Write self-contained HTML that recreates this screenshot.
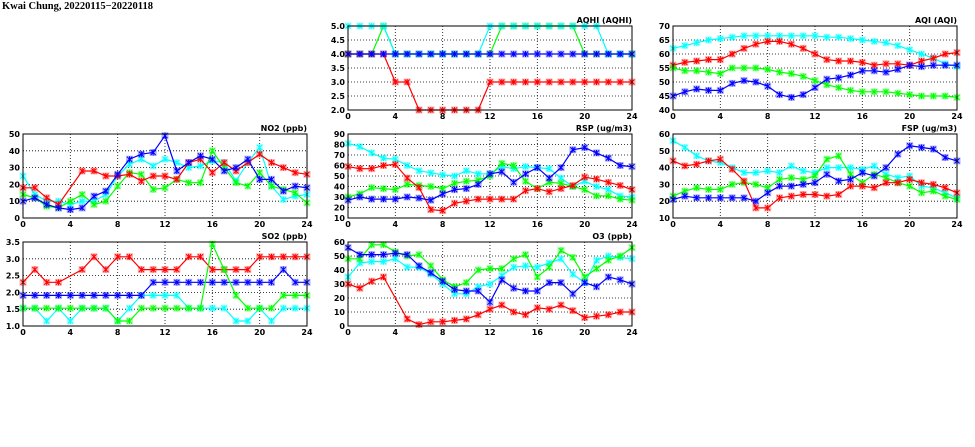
<!DOCTYPE html>
<html><head><meta charset="utf-8">
<style>
html,body{margin:0;padding:0;background:#fff;}
svg{display:block;}
text{font-family:"DejaVu Sans","Liberation Sans",sans-serif;font-weight:bold;font-size:8px;fill:#000;}
</style></head>
<body>
<svg id="s" width="975" height="447" xmlns="http://www.w3.org/2000/svg">
<text x="2" y="9" style="font-family:'Liberation Serif',serif;font-size:10.5px;font-weight:bold">Kwai Chung, 20220115−20220118</text>
</svg>
<script>
var N=null;
var panels=[
{t:"AQHI (AQHI)",x:348,y:26,min:2,max:5,step:0.5,dec:1,s:[
["#00ff00",[4,4,4,5,4,4,4,4,4,4,4,4,4,5,5,5,5,5,5,5,4,4,4,4,4]],
["#00ffff",[5,5,5,5,4,4,4,4,4,4,4,4,5,5,5,5,5,5,5,5,5,5,4,4,4]],
["#ff0000",[4,4,4,4,3,3,2,2,2,2,2,2,3,3,3,3,3,3,3,3,3,3,3,3,3]],
["#0000ff",[4,4,4,4,4,4,4,4,4,4,4,4,4,4,4,4,4,4,4,4,4,4,4,4,4]]]},
{t:"AQI (AQI)",x:673,y:26,min:40,max:70,step:5,dec:0,s:[
["#00ffff",[62,63,64,65,65.5,66,66.5,66.5,66.5,66.5,66.5,66.5,66.5,66,66,65.5,65,64.5,64,63,61.5,60,58.5,56.5,55.5]],
["#ff0000",[56,57,57.5,58,58,60,62,63.5,64.5,64.5,63.5,62,60,58,57.5,57.5,57,56,56.5,56.5,56,57.5,58.5,60,60.5]],
["#00ff00",[55,54,54,53.5,53,55,55,55,54.5,53.5,53,52,50.5,49,48,47,46.5,46.5,46.5,46,45.5,45,45,45,44.5]],
["#0000ff",[45,46.5,47.5,47,47,49.5,50.5,50,48.5,45.5,44.5,45.5,48,51,51.5,52.5,54,54,53.5,54.5,56,55.5,56,56,56]]]},
{t:"NO2 (ppb)",x:23,y:134,min:0,max:50,step:10,dec:0,s:[
["#00ffff",[25,14,10,10,8,10,10,14,25,32,35,31,35,33,30,31,34,33,22,33,42,19,11,13,14]],
["#00ff00",[14,12,7,6,10,14,8,10,19,27,26,17,18,23,21,21,40,30,21,19,27,19,17,15,9]],
["#ff0000",[18,18,12,8,N,28,28,25,25,26,22,25,25,23,33,35,27,33,28,33,38,33,30,27,26]],
["#0000ff",[10,12,8,6,5,6,13,16,26,35,38,39,49,28,33,37,35,28,30,35,23,23,16,19,18]]]},
{t:"RSP (ug/m3)",x:348,y:134,min:10,max:90,step:10,dec:0,s:[
["#00ffff",[81,78,72,67,66,60,55,53,51,50,55,52,52,59,57,59,58,57,48,40,45,40,37,31,30]],
["#00ff00",[30,33,39,38,37,42,41,40,38,43,45,46,50,62,60,45,38,44,43,40,37,31,31,28,27]],
["#ff0000",[59,57,57,60,61,48,39,18,17,24,26,28,28,28,28,36,38,35,38,41,49,47,44,41,37]],
["#0000ff",[27,30,28,28,28,30,29,27,33,37,38,42,52,54,44,52,58,48,58,75,77,72,67,60,59]]]},
{t:"FSP (ug/m3)",x:673,y:134,min:10,max:60,step:10,dec:0,s:[
["#00ffff",[56,52,47,44,43,40,37,37,38,37,41,38,37,40,40,40,39,41,36,34,35,29,28,25,22]],
["#00ff00",[23,26,28,27,27,30,31,30,28,33,34,33,35,45,47,36,31,36,34,31,29,25,26,23,21]],
["#ff0000",[44,41,42,44,45,39,32,16,16,22,23,24,24,23,24,29,29,28,31,31,33,31,30,28,25]],
["#0000ff",[21,23,22,22,22,22,22,20,25,29,29,30,31,36,32,33,37,35,40,48,53,52,51,46,44]]]},
{t:"SO2 (ppb)",x:23,y:242,min:1,max:3.5,step:0.5,dec:1,s:[
["#00ffff",[1.53,1.53,1.15,1.53,1.15,1.53,1.53,1.53,1.15,1.53,1.91,1.91,1.91,1.91,1.53,1.53,1.53,1.53,1.15,1.15,1.53,1.15,1.53,1.53,1.53]],
["#ff0000",[2.3,2.68,2.3,2.3,N,2.68,3.06,2.68,3.06,3.06,2.68,2.68,2.68,2.68,3.06,3.06,2.68,2.68,2.68,2.68,3.06,3.06,3.06,3.06,3.06]],
["#0000ff",[1.91,1.91,1.91,1.91,1.91,1.91,1.91,1.91,1.91,1.91,1.91,2.3,2.3,2.3,2.3,2.3,2.3,2.3,2.3,2.3,2.3,2.3,2.68,2.3,2.3]],
["#00ff00",[1.53,1.53,1.53,1.53,1.53,1.53,1.53,1.53,1.15,1.15,1.53,1.53,1.53,1.53,1.53,1.53,3.44,2.68,1.91,1.53,1.53,1.53,1.91,1.91,1.91]]]},
{t:"O3 (ppb)",x:348,y:242,min:0,max:60,step:10,dec:0,s:[
["#00ffff",[35,45,46,46,48,42,42,37,30,23,23,28,30,36,42,43,42,45,48,37,31,47,50,49,48]],
["#00ff00",[48,48,58,58,53,50,51,43,33,28,31,40,41,41,48,51,35,42,54,49,35,41,47,50,56]],
["#ff0000",[30,27,32,35,N,5,1,3,3,4,5,8,12,15,10,8,13,12,15,11,6,7,8,10,10]],
["#0000ff",[56,51,51,51,52,51,43,38,32,26,25,25,17,33,27,25,25,31,31,23,31,28,35,33,30]]]}
];
var W=284,H=84,o="";
panels.forEach(function(p){
 var X=function(i){return p.x+i*W/24},Y=function(v){return p.y+H-(v-p.min)/(p.max-p.min)*H};
 // grid
 for(var v=p.min+p.step;v<p.max-1e-9;v+=p.step){var yy=Y(v).toFixed(1);o+='<line x1="'+p.x+'" y1="'+yy+'" x2="'+(p.x+W)+'" y2="'+yy+'" stroke="#000" stroke-width="0.8" stroke-dasharray="1,2"/>';}
 for(var i=4;i<24;i+=4){var xx=X(i).toFixed(1);o+='<line x1="'+xx+'" y1="'+p.y+'" x2="'+xx+'" y2="'+(p.y+H)+'" stroke="#000" stroke-width="0.8" stroke-dasharray="1,2"/>';}
 // tick labels
 for(var v=p.min;v<=p.max+1e-9;v+=p.step){o+='<text x="'+(p.x-3)+'" y="'+(Y(v)+3)+'" text-anchor="end">'+v.toFixed(p.dec)+'</text>';}
 for(var i=0;i<=24;i+=4){o+='<text x="'+X(i)+'" y="'+(p.y+H+9)+'" text-anchor="middle">'+i+'</text>';}
 o+='<text x="'+(p.x+W)+'" y="'+(p.y-3)+'" text-anchor="end">'+p.t+'</text>';
 // series
 p.s.forEach(function(s){
  var c=s[0],d=s[1],pts=[];
  var segs=[],cur=[];
  d.forEach(function(v,i){if(v===null){if(cur.length)segs.push(cur);cur=[];}else cur.push(X(i).toFixed(1)+","+Y(v).toFixed(1));});
  if(cur.length)segs.push(cur);
  // bridge gaps (reference draws straight lines across missing)
  var all=[];d.forEach(function(v,i){if(v!==null)all.push(X(i).toFixed(1)+","+Y(v).toFixed(1));});
  o+='<polyline points="'+all.join(" ")+'" fill="none" stroke="'+c+'" stroke-width="1.2"/>';
  d.forEach(function(v,i){if(v===null)return;var x=X(i),y=Y(v);
   o+='<rect x="'+(x-3.5)+'" y="'+(y-3.5)+'" width="7" height="7" fill="'+c+'" opacity="0.3"/>';
   o+='<path d="M'+(x-2.5)+' '+(y-2.5)+'L'+(x+2.5)+' '+(y+2.5)+'M'+(x-2.5)+' '+(y+2.5)+'L'+(x+2.5)+' '+(y-2.5)+'M'+x+' '+(y-3)+'V'+(y+3)+'" stroke="'+c+'" stroke-width="1"/>';
  });
 });
 o+='<rect x="'+p.x+'" y="'+p.y+'" width="'+W+'" height="'+H+'" fill="none" stroke="#000" stroke-width="1"/>';
});
document.getElementById("s").insertAdjacentHTML("beforeend",o);
</script>
</body></html>
